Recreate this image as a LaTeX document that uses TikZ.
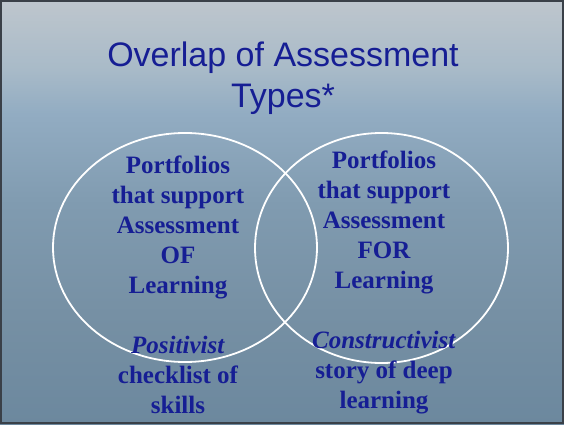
\documentclass[tikz,border=0pt]{standalone}
\usepackage{fontspec}
\setmainfont{Liberation Serif}
\newfontfamily\titlefont{Liberation Sans}
\definecolor{ink}{RGB}{22,30,148}
\definecolor{bgA}{RGB}{190,198,205}
\definecolor{bgB}{RGB}{168,186,200}
\definecolor{bgC}{RGB}{146,172,194}
\definecolor{bgD}{RGB}{128,155,176}
\definecolor{bgE}{RGB}{118,144,164}
\definecolor{bgF}{RGB}{108,136,158}
\definecolor{frame}{RGB}{58,64,72}
\tikzset{
  ring/.style={draw=white, line width=1.8pt},
  body/.style={font=\fontsize{25}{30}\selectfont\bfseries, text=ink, align=center, inner sep=0pt, anchor=north},
  title/.style={font=\titlefont\fontsize{34}{40}\selectfont, text=ink, align=center, inner sep=0pt, anchor=base}
}
\begin{document}
\begin{tikzpicture}[x=1pt,y=1pt]
\useasboundingbox (0,0) rectangle (564,424);
% background
\shade[top color=bgA, bottom color=bgB] (0,424) rectangle (564,354);
\shade[top color=bgB, bottom color=bgC] (0,354.2) rectangle (564,310);
\shade[top color=bgC, bottom color=bgD] (0,310.2) rectangle (564,220);
\shade[top color=bgD, bottom color=bgE] (0,220.2) rectangle (564,110);
\shade[top color=bgE, bottom color=bgF] (0,110.2) rectangle (564,0);
\draw[frame, line width=2.4pt] (1.2,1.2) rectangle (562.8,422.8);
% title
\node[title] (t1) at (283,357) {Overlap of Assessment};
\node[title] (t2) at (283,317) {Types*};
% ellipses
\draw[ring] (185,176.5) ellipse [x radius=132, y radius=114.5];
\draw[ring] (381.5,176) ellipse [x radius=126.5, y radius=115];
% texts
\node[body] (left) at (178,268) {Portfolios\\that support\\Assessment\\OF\\Learning\\[30pt]\textit{Positivist}\\checklist of\\skills};
\node[body] (right) at (384,273) {Portfolios\\that support\\Assessment\\FOR\\Learning\\[30pt]\textit{Constructivist}\\story of deep\\learning};
\end{tikzpicture}
\end{document}
